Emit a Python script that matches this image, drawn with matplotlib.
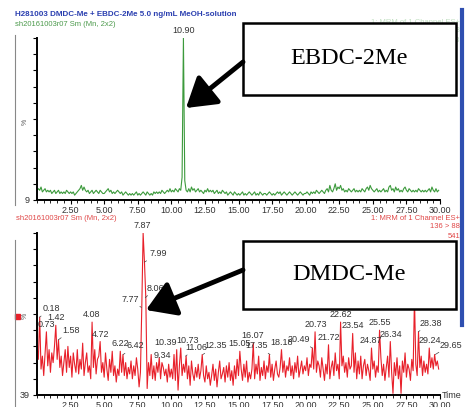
import numpy as np
import matplotlib
matplotlib.use("Agg")
import matplotlib.pyplot as plt
from matplotlib.patches import Rectangle, FancyArrowPatch
from matplotlib.lines import Line2D

plt.rcParams['font.family'] = ['Liberation Sans', 'DejaVu Sans']

# --- data (relative intensity %, sampled every 0.1 min) ---
ebdc_signal = [
    6, 7, 6, 8, 5, 6, 7, 5, 6, 5,
    6, 4, 5, 6, 4, 5, 6, 4, 5, 4,
    5, 4, 6, 5, 4, 5, 4, 5, 3, 4,
    5, 6, 7, 9, 6, 8, 6, 5, 6, 4,
    5, 6, 4, 5, 6, 5, 4, 6, 5, 4,
    4, 5, 6, 7, 5, 6, 4, 5, 4, 5,
    6, 5, 4, 5, 3, 4, 5, 4, 3, 4,
    3, 4, 3, 4, 5, 3, 4, 3, 4, 5,
    4, 3, 5, 4, 3, 4, 3, 5, 4, 5,
    4, 5, 4, 6, 5, 4, 5, 6, 5, 7,
    5, 6, 5, 7, 6, 5, 7, 6, 14, 100,
    12, 6, 5, 7, 5, 8, 6, 7, 5, 6,
    7, 5, 6, 5, 4, 6, 5, 7, 5, 6,
    5, 6, 4, 5, 6, 4, 5, 4, 6, 5,
    4, 5, 3, 4, 5, 4, 3, 5, 4, 3,
    4, 3, 4, 5, 3, 4, 3, 4, 5, 4,
    3, 4, 5, 3, 4, 3, 5, 4, 3, 4,
    4, 3, 4, 5, 4, 3, 4, 3, 4, 5,
    4, 5, 3, 4, 5, 4, 3, 4, 5, 4,
    3, 4, 5, 4, 3, 4, 5, 4, 3, 4,
    4, 5, 4, 3, 5, 4, 5, 4, 6, 5,
    4, 5, 6, 5, 4, 6, 7, 5, 9, 6,
    5, 7, 10, 6, 8, 7, 9, 6, 7, 5,
    6, 5, 7, 6, 5, 6, 7, 5, 6, 5,
    6, 5, 7, 6, 5, 7, 8, 6, 9, 7,
    6, 5, 6, 7, 5, 6, 5, 6, 7, 5,
    6, 5, 8, 9, 6, 7, 5, 8, 6, 7,
    5, 6, 5, 7, 8, 6, 5, 7, 6, 5,
    6, 5, 6, 5, 7, 6, 5, 6, 5, 6,
    5, 6, 7, 5, 8, 6, 5, 7, 5, 6,
]

dmdc_signal = [
    30, 22, 48, 16, 24, 12, 26, 39, 18, 28,
    14, 26, 20, 30, 43, 22, 34, 17, 24, 12,
    20, 28, 14, 30, 17, 24, 11, 26, 19, 14,
    28, 13, 22, 16, 32, 12, 20, 26, 14, 18,
    10, 45, 17, 28, 13, 22, 24, 33, 14, 20,
    11, 26, 16, 9, 22, 14, 27, 12, 18, 8,
    16, 12, 27, 14, 25, 12, 20, 10, 17, 13,
    21, 10, 18, 12, 23, 16, 5, 14, 54, 100,
    82, 60, 4, 20, 12, 25, 10, 18, 9, 20,
    14, 23, 10, 20, 17, 12, 16, 8, 19, 11,
    16, 10, 25, 9, 28, 3, 18, 29, 12, 19,
    14, 24, 10, 18, 6, 21, 13, 9, 17, 11,
    19, 10, 15, 25, 12, 8, 18, 10, 14, 6,
    12, 19, 9, 16, 5, 14, 21, 10, 13, 17,
    8, 18, 11, 20, 9, 15, 6, 18, 10, 22,
    12, 27, 16, 9, 19, 11, 21, 8, 14, 10,
    16, 32, 10, 19, 13, 24, 9, 17, 12, 21,
    10, 18, 14, 25, 11, 19, 9, 16, 21, 13,
    11, 17, 28, 14, 21, 11, 18, 15, 23, 12,
    18, 10, 20, 14, 24, 11, 16, 21, 13, 18,
    15, 23, 12, 19, 17, 29, 16, 39, 14, 21,
    18, 11, 23, 16, 9, 19, 13, 31, 10, 17,
    21, 12, 26, 15, 19, 10, 45, 18, 24, 14,
    20, 11, 23, 16, 18, 38, 14, 26, 10, 21,
    13, 24, 10, 18, 22, 12, 19, 15, 9, 29,
    16, 21, 11, 18, 14, 40, 23, 12, 19, 9,
    17, 24, 11, 33, 14, 1, 20, 12, 23, 10,
    18, 1, 21, 14, 26, 11, 19, 16, 9, 22,
    15, 60, 19, 12, 39, 17, 24, 12, 21, 14,
    19, 13, 29, 17, 23, 16, 25, 18, 21, 16,
]

times = np.arange(len(dmdc_signal)) / 10.0

ebdc_peaks = ["10.90"]
dmdc_peaks = ["0.18", "0.73", "1.42", "1.58", "4.08", "4.72", "6.22", "6.42",
              "7.77", "7.87", "7.99", "8.06", "9.34", "10.39", "10.73", "11.06",
              "12.35", "15.05", "16.07", "17.35", "18.18", "20.49", "20.73",
              "21.72", "22.62", "23.54", "24.87", "25.55", "26.34", "28.38",
              "29.24", "29.65"]

x_ticks = [2.5, 5.0, 7.5, 10.0, 12.5, 15.0, 17.5, 20.0, 22.5, 25.0, 27.5, 30.0]

# label placement: (ha, dx px, dy px, leader)
label_style = {
    "0.18": ("left", 3, 4, True), "1.58": ("left", 4, 5, True),
    "6.42": ("left", 3, 4, True), "7.77": ("right", -2, 4, True),
    "7.99": ("left", 5, 4, True), "8.06": ("left", 1, 5, True),
    "10.39": ("right", 0, 3, False), "10.73": ("left", -5, 3, False),
    "11.06": ("left", 0, 4, True),
    "12.35": ("left", 1, 4, True), "17.35": ("right", -2, 4, True),
    "20.49": ("right", -2, 4, True), "28.38": ("left", 1, 4, True),
    "29.65": ("left", 4, 5, True),
}

W, H = 469, 407
fig = plt.figure(figsize=(W / 100, H / 100), dpi=100)


def fx(x):
    return x / W


def fy(y):
    return 1 - y / H


def style_axis(ax):
    for s in ["top", "right"]:
        ax.spines[s].set_visible(False)
    ax.spines["left"].set_linewidth(1.4)
    ax.spines["bottom"].set_linewidth(1.4)
    ax.set_xlim(0, 30)
    ax.set_ylim(0, 100)
    ax.set_xticks(x_ticks)
    ax.set_xticklabels(["%.2f" % t for t in x_ticks])
    ax.set_xticks(np.arange(0, 30.01, 0.5), minor=True)
    ax.set_yticks(np.arange(0, 101, 10))
    ax.set_yticklabels([])
    ax.tick_params(axis="x", which="major", length=3, width=0.8, labelsize=6.5,
                   labelcolor="#333333", pad=1)
    ax.tick_params(axis="x", which="minor", length=2, width=0.6)
    ax.tick_params(axis="y", length=3, width=0.8)
    ax.patch.set_alpha(0)


def peak_value(signal, t):
    sig = np.array(signal)
    mask = np.abs(times - t) <= 0.055
    return sig[mask].max()


# --- top panel: EBDC-2Me ---
ax1 = fig.add_axes([fx(37), fy(200), fx(440) - fx(37), fy(38) - fy(200)])
ax1.plot(times, ebdc_signal, color="#3c9a3c", lw=0.8)
style_axis(ax1)
for lab in ebdc_peaks:
    t = float(lab)
    ax1.annotate(lab, (t, peak_value(ebdc_signal, t)), xytext=(0, 3),
                 textcoords="offset pixels", ha="center", va="bottom",
                 fontsize=6.5, color="#333333", annotation_clip=False)

# --- bottom panel: DMDC-Me ---
ax2 = fig.add_axes([fx(37), fy(395), fx(440) - fx(37), fy(233) - fy(395)])
ax2.plot(times, dmdc_signal, color="#e8202a", lw=0.8)
style_axis(ax2)
for lab in dmdc_peaks:
    t = float(lab)
    v = peak_value(dmdc_signal, t)
    ha, dx, dy, leader = label_style.get(lab, ("center", 0, 3, False))
    props = dict(arrowstyle="-", lw=0.5, color="#444444",
                 shrinkA=0, shrinkB=0) if leader else None
    ax2.annotate(lab, (t, v), xytext=(dx, dy), textcoords="offset pixels",
                 ha=ha, va="bottom", fontsize=6.5, color="#333333",
                 arrowprops=props, annotation_clip=False)

# --- header texts ---
fig.text(fx(15), fy(14), "H281003 DMDC-Me + EBDC-2Me 5.0 ng/mL MeOH-solution",
         color="#2a3fb0", fontsize=5.8, fontweight="bold", va="center")
fig.text(fx(15), fy(25), "sh20161003r07 Sm (Mn, 2x2)", color="#4c9a4c",
         fontsize=5.5, va="center")
for txt, y in [("1: MRM of 1 Channel ES+", 22), ("136 > 88", 31), ("1.13e3", 40)]:
    fig.text(fx(460), fy(y), txt, color="#9ccc9c", fontsize=5.5, ha="right",
             va="center", alpha=0.6)

fig.text(fx(16), fy(219), "sh20161003r07 Sm (Mn, 2x2)", color="#e04848",
         fontsize=5.5, va="center")
for txt, y in [("1: MRM of 1 Channel ES+", 218), ("136 > 88", 227), ("541", 236)]:
    fig.text(fx(460), fy(y), txt, color="#e04848", fontsize=5.5, ha="right",
             va="center")

fig.text(fx(30), fy(200), "9", fontsize=6.5, color="#333333", ha="right", va="center")
fig.text(fx(30), fy(396), "39", fontsize=6.5, color="#333333", ha="right", va="center")
fig.text(fx(25), fy(122), "%", fontsize=5, color="#555555", rotation=90,
         ha="center", va="center")
fig.text(fx(25), fy(316), "%", fontsize=5, color="#555555", rotation=90,
         ha="center", va="center")
fig.add_artist(Rectangle((fx(15), fy(319)), fx(5), fy(314) - fy(319),
                         transform=fig.transFigure, color="#e8202a"))
fig.text(fx(442), fy(395), "Time", fontsize=6.5, color="#333333", va="center")

# window frame lines
fig.add_artist(Line2D([fx(15), fx(15)], [fy(35), fy(205)], color="#888888", lw=0.8))
fig.add_artist(Line2D([fx(15), fx(15)], [fy(240), fy(407)], color="#888888", lw=0.8))
fig.add_artist(Line2D([fx(462), fx(462)], [fy(10), fy(325)], color="#2f4fb0", lw=3))

# --- callout boxes and arrows ---
boxes = [("EBDC-2Me", 243, 23, 456, 95, (243, 62), (186, 108)),
         ("DMDC-Me", 243, 241, 456, 309, (243, 270), (146, 310))]
for name, x0, y0, x1, y1, tail, tip in boxes:
    fig.add_artist(Rectangle((fx(x0), fy(y1)), fx(x1) - fx(x0), fy(y0) - fy(y1),
                             transform=fig.transFigure, facecolor="white",
                             edgecolor="black", lw=1.8, zorder=5))
    fig.text(fx((x0 + x1) / 2), fy((y0 + y1) / 2), name, family="Liberation Serif",
             fontsize=17.5, ha="center", va="center", zorder=6)
    fig.add_artist(FancyArrowPatch(
        (fx(tail[0]), fy(tail[1])), (fx(tip[0]), fy(tip[1])),
        transform=fig.transFigure, arrowstyle="-|>,head_length=8,head_width=5",
        mutation_scale=2.2, lw=3.5, color="black", shrinkA=0, shrinkB=0, zorder=6))

fig.savefig("out.png", dpi=100)
